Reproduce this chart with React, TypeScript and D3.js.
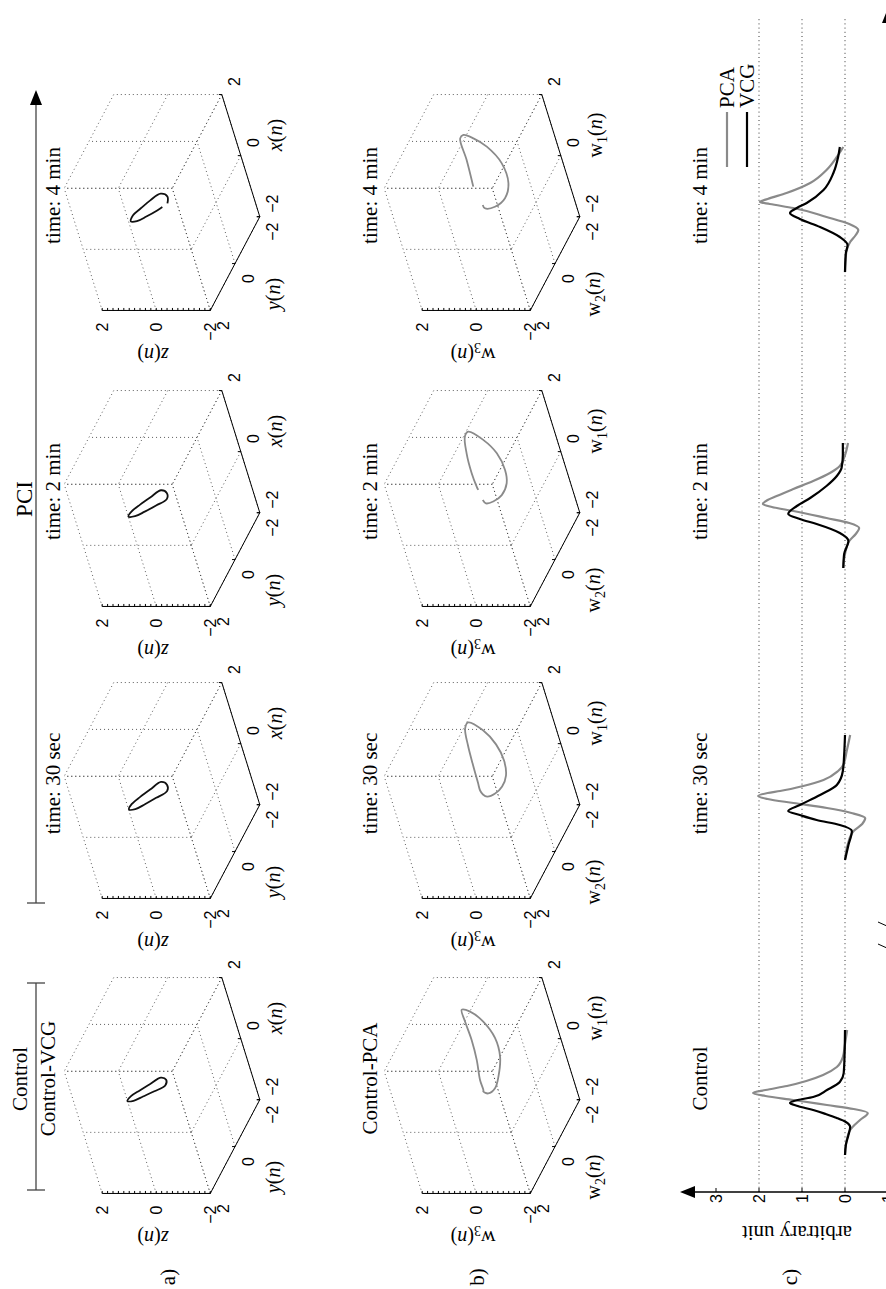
import React from "react";
import * as d3 from "d3";

type P3 = [number, number, number];
type P2 = [number, number];

// ---- data ----
const vcgTitles = ["Control-VCG", "time: 30 sec", "time: 2 min", "time: 4 min"];
const pcaTitles = ["Control-PCA", "time: 30 sec", "time: 2 min", "time: 4 min"];
const beatTitles = ["Control", "time: 30 sec", "time: 2 min", "time: 4 min"];
const panelLetters = ["a)", "b)", "c)"];
const cubeTicks = [-2, 0, 2];
const amplitudeTicks = [-1, 0, 1, 2, 3];
const amplitudeGrid = [0, 1, 2];
const legendNames = ["PCA", "VCG"];

// VCG loops, x(n), y(n), z(n)
const vcgControl: P3[] = [
  [0.19, 0, -0.22], [0.26, 0, -0.05], [0.05, 0, 0.42], [-0.16, 0, 0.88], [-0.35, 0, 1.27],
  [-0.51, 0, 1.46], [-0.5, 0, 1.23], [-0.36, 0, 0.83], [-0.19, 0, 0.35], [0.0, 0, -0.12],
];
const vcg30s: P3[] = [
  [0.19, 0, -0.25], [0.28, 0, -0.06], [0.04, 0, 0.41], [-0.21, 0, 0.88], [-0.44, 0, 1.27],
  [-0.62, 0, 1.44], [-0.61, 0, 1.2], [-0.45, 0, 0.79], [-0.24, 0, 0.3], [-0.02, 0, -0.18],
];
const vcg2min: P3[] = [
  [0.18, 0, -0.24], [0.27, 0, -0.06], [0.04, 0, 0.41], [-0.2, 0, 0.88], [-0.42, 0, 1.27],
  [-0.59, 0, 1.45], [-0.58, 0, 1.2], [-0.43, 0, 0.79], [-0.23, 0, 0.3], [-0.02, 0, -0.17],
];
const vcg4min: P3[] = [
  [-0.15, 0, 0.04], [-0.26, 0, 0.27], [-0.46, 0, 0.74], [-0.61, 0, 1.14], [-0.62, 0, 1.37],
  [-0.42, 0, 1.22], [-0.19, 0, 0.85], [0.07, 0, 0.41], [0.29, 0, -0.05], [0.2, 0, -0.27],
  [-0.03, 0, -0.19],
];

// PCA loops, w1(n), w2(n), w3(n)
const pcaControl: P3[] = [
  [-0.15, 0, 0.0], [0.18, 0, 0.01], [0.84, 0, -0.1], [1.49, 0, -0.14], [2.09, 0, -0.11],
  [2.48, 0, -0.12], [2.42, 0, -0.41], [2.09, 0, -0.78], [1.55, 0, -1.03], [0.94, 0, -1.0],
  [0.29, 0, -0.71], [-0.09, 0, -0.45], [-0.26, 0, -0.14], [-0.2, 0, 0.02],
];
const pca30s: P3[] = [
  [0.0, 0, 0.07], [0.26, 0, 0.06], [0.82, 0, 0.04], [1.48, 0, 0.0], [2.03, 0, -0.09],
  [2.23, 0, -0.27], [1.97, 0, -0.73], [1.51, 0, -1.05], [0.98, 0, -1.16], [0.49, 0, -1.06],
  [0.13, 0, -0.79], [-0.1, 0, -0.45], [-0.2, 0, -0.12], [-0.13, 0, 0.01],
];
const pca2min: P3[] = [
  [0.28, 0, 0.04], [0.39, 0, 0.06], [0.83, 0, 0.09], [1.48, 0, 0.05], [2.03, 0, -0.08],
  [2.19, 0, -0.26], [1.92, 0, -0.72], [1.48, 0, -1.07], [0.93, 0, -1.18], [0.5, 0, -1.09],
  [0.11, 0, -0.77], [-0.1, 0, -0.38], [-0.16, 0, -0.09], [-0.05, 0, -0.01],
];
const pca4min: P3[] = [
  [0.52, 0, 0.14], [1.39, 0, 0.08], [2.1, 0, 0.07], [2.21, 0, -0.09], [2.1, 0, -0.42],
  [1.83, 0, -0.82], [1.29, 0, -1.18], [0.63, 0, -1.2], [0.14, 0, -0.9], [-0.14, 0, -0.43],
  [-0.19, 0, -0.04], [-0.08, 0, 0.0],
];
const vcgClosed = [true, true, true, false];
const pcaClosed = [true, true, false, false];

// QRS complexes: [sample (ms), amplitude]
const beatVcgControl: P2[] = [
  [0, 0], [10, -0.02], [20, -0.08], [28, -0.12], [33, -0.02], [37, 0.19], [41, 0.45], [45, 0.74],
  [49, 1.1], [52, 1.28], [55, 1.1], [58, 0.74], [65, 0.42], [73, 0.12], [82, 0.03], [100, 0.01], [125, 0],
];
const beatPcaControl: P2[] = [
  [0, 0], [10, -0.02], [20, -0.07], [25, -0.12], [30, -0.22], [35, -0.35], [42, -0.53], [46, -0.2],
  [50, 0.42], [55, 1.2], [59, 1.85], [62, 2.14], [65, 1.85], [69, 1.35], [74, 0.9], [80, 0.51],
  [88, 0.19], [98, 0.05], [111, 0], [125, -0.05],
];
const beatVcg30s: P2[] = [
  [0, 0], [15, -0.08], [29, -0.16], [35, 0.12], [40, 0.66], [45, 1.05], [49, 1.32], [55, 1.05],
  [65, 0.58], [75, 0.19], [89, 0.05], [105, 0.02], [125, 0],
];
const beatPca30s: P2[] = [
  [0, 0], [15, -0.06], [29, -0.2], [36, -0.4], [42, -0.47], [47, -0.15], [52, 0.42], [57, 1.2],
  [61, 1.8], [64, 2.02], [67, 1.8], [69, 1.51], [74, 0.97], [80, 0.5], [89, 0.16], [95, 0.04],
  [109, -0.04], [125, -0.12],
];
const beatVcg2min: P2[] = [
  [0, 0.04], [14, 0.02], [27, -0.08], [35, 0.12], [44, 0.66], [49, 1.05], [54, 1.32], [62, 1.12],
  [70, 0.81], [82, 0.43], [92, 0.19], [100, 0.08], [113, 0.05], [125, 0.05],
];
const beatPca2min: P2[] = [
  [0, 0.04], [14, 0.0], [27, -0.1], [34, -0.25], [40, -0.33], [45, -0.1], [50, 0.43], [57, 1.2],
  [61, 1.7], [64, 1.91], [68, 1.8], [72, 1.59], [79, 1.2], [87, 0.74], [95, 0.35], [102, 0.12],
  [113, 0], [125, -0.07],
];
const beatVcg4min: P2[] = [
  [0, 0], [19, -0.02], [27, -0.06], [35, 0.12], [45, 0.58], [53, 1.05], [59, 1.28], [64, 1.12],
  [69, 0.89], [82, 0.5], [99, 0.27], [115, 0.16], [125, 0.12],
];
const beatPca4min: P2[] = [
  [0, 0], [20, -0.03], [30, -0.12], [37, -0.25], [42, -0.31], [48, -0.1], [55, 0.43], [64, 1.2],
  [68, 1.75], [70, 1.98], [73, 1.8], [79, 1.36], [89, 0.81], [102, 0.43], [115, 0.19], [125, 0.04],
];

const vcgLoops = [vcgControl, vcg30s, vcg2min, vcg4min];
const pcaLoops = [pcaControl, pca30s, pca2min, pca4min];
const vcgBeats = [beatVcgControl, beatVcg30s, beatVcg2min, beatVcg4min];
const pcaBeats = [beatPcaControl, beatPca30s, beatPca2min, beatPca4min];

// ---- layout ----
const W = 886;
const H = 1289;
const colOrigin = [203.5, 498.5, 790.5, 1086.5];
const ROW_A = 162;
const ROW_B = 482;
const serif = "'Liberation Serif', 'Times New Roman', serif";
const sans = "'Liberation Sans', Arial, sans-serif";
const GRAY = "#8a8a8a";

const AZ = (-37.5 * Math.PI) / 180;
const EL = (30 * Math.PI) / 180;
const HS = 38.5;
const VS = 31.2;

function projector(ou: number, ov: number) {
  return ([x, y, z]: P3): P2 => [
    ou + HS * (Math.cos(AZ) * x + Math.sin(AZ) * y),
    ov - VS * (-Math.sin(AZ) * Math.sin(EL) * x + Math.cos(AZ) * Math.sin(EL) * y + Math.cos(EL) * z),
  ];
}

const fmt = (t: number) => (t < 0 ? "\u2212" + Math.abs(t) : String(t));

function AxisName({ base, sub, italic }: { base: string; sub?: string; italic: boolean }) {
  return (
    <>
      <tspan fontStyle={italic ? "italic" : "normal"}>{base}</tspan>
      {sub && (
        <tspan fontSize={14} dy={5}>
          {sub}
        </tspan>
      )}
      <tspan dy={sub ? -5 : 0}>(</tspan>
      <tspan fontStyle="italic">n</tspan>
      <tspan>)</tspan>
    </>
  );
}

function Cube({
  ou, ov, loop, closed, color, title, titleV, pca,
}: {
  ou: number; ov: number; loop: P3[]; closed: boolean; color: string; title: string; titleV: number; pca: boolean;
}) {
  const proj = projector(ou, ov);
  const seg = (a: P3, b: P3) => {
    const [u1, v1] = proj(a);
    const [u2, v2] = proj(b);
    return `M${u1},${v1}L${u2},${v2}`;
  };
  const grid: string[] = [];
  cubeTicks.forEach((t) => {
    grid.push(seg([t, -2, -2], [t, 2, -2]), seg([-2, t, -2], [2, t, -2]));
    grid.push(seg([2, t, -2], [2, t, 2]), seg([2, -2, t], [2, 2, t]));
    grid.push(seg([t, 2, -2], [t, 2, 2]), seg([-2, 2, t], [2, 2, t]));
  });
  const axes = [
    seg([-2, -2, -2], [2, -2, -2]),
    seg([-2, 2, -2], [-2, -2, -2]),
    seg([-2, 2, -2], [-2, 2, 2]),
  ];
  const minor = d3.range(-2, 2.001, 0.2).map((t) => {
    const [u, v] = proj([-2, 2, t]);
    return `M${u},${v}L${u + 2.5},${v}`;
  });
  const major = cubeTicks.flatMap((t) => {
    const [ux, vx] = proj([t, -2, -2]);
    const [uy, vy] = proj([-2, t, -2]);
    return [`M${ux},${vx}L${ux},${vx - 3}`, `M${uy},${vy}L${uy},${vy - 3}`];
  });
  const line = d3
    .line<P3>()
    .x((d) => proj(d)[0])
    .y((d) => proj(d)[1])
    .curve(closed ? d3.curveCatmullRomClosed : d3.curveCatmullRom);
  const [zl0, zl1] = [ou - 152.5, ov - 9];
  return (
    <g>
      <path d={grid.join("")} stroke="#333" strokeWidth={0.8} strokeDasharray="1 3" fill="none" />
      <path d={axes.join("") + minor.join("") + major.join("")} stroke="#000" strokeWidth={1} fill="none" />
      <path d={line(loop) ?? ""} stroke={color} strokeWidth={1.8} fill="none" />
      <g fontFamily={sans} fontSize={16} fill="#000">
        {cubeTicks.map((t) => {
          const [u, v] = proj([-2, 2, t]);
          return (
            <text key={"z" + t} x={u - 12} y={v} textAnchor="end" dy="0.35em">
              {fmt(t)}
            </text>
          );
        })}
        {cubeTicks.map((t) => {
          const [u, v] = proj([-2, t, -2]);
          return (
            <text key={"y" + t} x={u - 15} y={v + 13} textAnchor="middle" dy="0.35em">
              {fmt(t)}
            </text>
          );
        })}
        {cubeTicks.map((t) => {
          const [u, v] = proj([t, -2, -2]);
          return (
            <text key={"x" + t} x={u + 13} y={v + 13} textAnchor="middle" dy="0.35em">
              {fmt(t)}
            </text>
          );
        })}
      </g>
      <g fontFamily={serif} fontSize={20} fill="#000">
        <text x={ou - 91.5} y={ov + 111} textAnchor="middle" dy="0.35em">
          {pca ? <AxisName base="w" sub="2" italic={false} /> : <AxisName base="y" italic />}
        </text>
        <text x={ou + 67.5} y={ov + 113} textAnchor="middle" dy="0.35em">
          {pca ? <AxisName base="w" sub="1" italic={false} /> : <AxisName base="x" italic />}
        </text>
        <text transform={`translate(${zl0},${zl1}) rotate(-90)`} textAnchor="middle" dy="0.35em">
          {pca ? <AxisName base="w" sub="3" italic={false} /> : <AxisName base="z" italic />}
        </text>
        <text x={ou + 7} y={titleV} textAnchor="middle" fontSize={21}>
          {title}
        </text>
      </g>
    </g>
  );
}

function Beats() {
  const yScale = d3.scaleLinear().domain([-1, 3]).range([888, 716]);
  const axisU = 97;
  const axisEndU = 1281;
  const tipV = yScale(3) - 36;
  const gridEnd = 1272;
  return (
    <g>
      {amplitudeGrid.map((g) => (
        <line key={g} x1={axisU} x2={gridEnd} y1={yScale(g)} y2={yScale(g)} stroke="#222" strokeWidth={0.9} strokeDasharray="1 3.2" />
      ))}
      <line x1={axisU} x2={axisU} y1={yScale(-1) + 2} y2={tipV + 12} stroke="#000" strokeWidth={1.3} />
      <path d={`M${axisU},${tipV}L${axisU - 6},${tipV + 15}L${axisU + 6},${tipV + 15}Z`} fill="#000" />
      <line x1={axisU} x2={axisEndU - 12} y1={yScale(-1)} y2={yScale(-1)} stroke="#000" strokeWidth={1.3} />
      <path d={`M${axisEndU},${yScale(-1)}L${axisEndU - 15},${yScale(-1) - 6}L${axisEndU - 15},${yScale(-1) + 6}Z`} fill="#000" />
      {amplitudeTicks.map((t) => (
        <g key={t}>
          <line x1={axisU} x2={axisU + 4} y1={yScale(t)} y2={yScale(t)} stroke="#000" strokeWidth={1} />
          <text x={axisU - 2} y={yScale(t)} textAnchor="end" dy="0.35em" fontFamily={sans} fontSize={16}>
            {fmt(t)}
          </text>
        </g>
      ))}
      <text
        transform={`translate(56,${yScale(1) - 5}) rotate(-90)`}
        textAnchor="middle"
        dy="0.35em"
        fontFamily={serif}
        fontSize={21}
      >
        arbitrary unit
      </text>
      {/* axis break */}
      {[-11, 11].map((d) => {
        const u = colOrigin[1] - 147 + d;
        return <line key={d} x1={u + 4.5} y1={yScale(-1) - 10} x2={u - 4.5} y2={yScale(-1) + 10} stroke="#000" strokeWidth={1} />;
      })}
      {colOrigin.map((ou, i) => {
        const start = ou - 69.5;
        const xs = d3.scaleLinear().domain([0, 125]).range([start, start + 125]);
        const line = d3
          .line<P2>()
          .x((d) => xs(d[0]))
          .y((d) => yScale(d[1]))
          .curve(d3.curveMonotoneX);
        return (
          <g key={i}>
            <path d={line(pcaBeats[i]) ?? ""} stroke={GRAY} strokeWidth={2.2} fill="none" />
            <path d={line(vcgBeats[i]) ?? ""} stroke="#000" strokeWidth={2.2} fill="none" />
            <text x={ou + 7} y={707} textAnchor="middle" fontFamily={serif} fontSize={21}>
              {beatTitles[i]}
            </text>
          </g>
        );
      })}
      {legendNames.map((n, i) => {
        const v = 727 + i * 20;
        return (
          <g key={n}>
            <line x1={1122} x2={1177} y1={v} y2={v} stroke={i === 0 ? GRAY : "#000"} strokeWidth={2.2} />
            <text x={1181} y={v + 6.5} fontFamily={serif} fontSize={21}>
              {n}
            </text>
          </g>
        );
      })}
    </g>
  );
}

export default function App() {
  return (
    <svg
      width={W}
      height={H}
      viewBox={`0 0 ${W} ${H}`}
      style={{ position: "absolute", left: 0, top: 0, background: "#fff" }}
    >
      <rect width={W} height={H} fill="#fff" />
      <g transform={`translate(0,${H}) rotate(-90)`}>
        {/* Control bracket and PCI arrow */}
        <g stroke="#444" strokeWidth={1.3}>
          <line x1={99} x2={306} y1={36} y2={36} />
          <line x1={99} x2={99} y1={27} y2={45} />
          <line x1={306} x2={306} y1={27} y2={45} />
          <line x1={386} x2={1186} y1={36} y2={36} />
          <line x1={386} x2={386} y1={27} y2={45} />
        </g>
        <path d="M1199,36L1184,30L1184,42Z" fill="#000" />
        <text x={210} y={27} textAnchor="middle" fontFamily={serif} fontSize={21}>
          Control
        </text>
        <text x={790} y={32} textAnchor="middle" fontFamily={serif} fontSize={23}>
          PCI
        </text>
        {colOrigin.map((ou, i) => (
          <Cube
            key={"a" + i}
            ou={ou}
            ov={ROW_A}
            loop={vcgLoops[i]}
            closed={vcgClosed[i]}
            color="#111"
            title={vcgTitles[i]}
            titleV={i === 0 ? 55 : 60}
            pca={false}
          />
        ))}
        {colOrigin.map((ou, i) => (
          <Cube
            key={"b" + i}
            ou={ou}
            ov={ROW_B}
            loop={pcaLoops[i]}
            closed={pcaClosed[i]}
            color={GRAY}
            title={pcaTitles[i]}
            titleV={377}
            pca
          />
        ))}
        <Beats />
        {panelLetters.map((l, i) => (
          <text key={l} x={12} y={[168, 477, 790][i]} textAnchor="middle" dy="0.35em" fontFamily={serif} fontSize={21}>
            {l}
          </text>
        ))}
      </g>
    </svg>
  );
}
